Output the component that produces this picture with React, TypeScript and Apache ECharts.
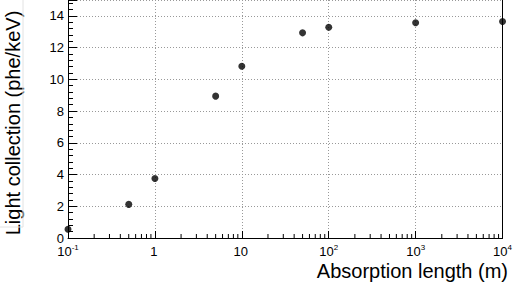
import React, { useEffect, useRef } from "react";
import * as echarts from "echarts";

const absorptionLength = [0.1, 0.5, 1, 5, 10, 50, 100, 1000, 10000];
const lightCollection = [0.55, 2.12, 3.75, 8.94, 10.82, 12.93, 13.28, 13.57, 13.64];
const decades = [0.1, 1, 10, 100, 1000];
const minorMultipliers = [2, 3, 4, 5, 6, 7, 8, 9];
const yTicks = [0, 2, 4, 6, 8, 10, 12, 14];

const FONT = "'Liberation Sans', Arial, Helvetica, sans-serif";

export default function App() {
  const ref = useRef<HTMLDivElement>(null);
  useEffect(() => {
    if (!ref.current) return;
    const chart = echarts.init(ref.current, undefined, { renderer: "svg" });
    const minorTicks: number[][] = [];
    decades.forEach((d) => minorMultipliers.forEach((m) => minorTicks.push([d * m, 0])));
    const yMin = yTicks[0];
    const yMax = 15;
    chart.setOption({
      animation: false,
      backgroundColor: "#fff",
      grid: { left: 68, right: 12, top: 0, bottom: 46, show: false },
      xAxis: {
        type: "log",
        logBase: 10,
        min: 0.1,
        max: 10000,
        axisLine: { show: true, onZero: false, lineStyle: { color: "#000", width: 1 } },
        axisTick: { show: true, inside: true, length: 7, lineStyle: { color: "#000" } },
        minorTick: { show: false },
        splitLine: { show: true, lineStyle: { color: "#999", type: [1, 2], width: 1 } },
        axisLabel: {
          margin: 7,
          color: "#000",
          fontFamily: FONT,
          fontSize: 13,
          lineHeight: 15,
          formatter: (v: number) => {
            const e = Math.round(Math.log10(v));
            if (e === 0) return "{b|1}{s| }";
            if (e === 1) return "{b|10}{s| }";
            return `{b|10}{s|${e}}`;
          },
          rich: {
            b: { fontSize: 13, lineHeight: 13, verticalAlign: "bottom", fontFamily: FONT, color: "#000" },
            s: {
              fontSize: 8,
              lineHeight: 8,
              padding: [0, 0, 7, 0],
              verticalAlign: "bottom",
              fontFamily: FONT,
              color: "#000",
            },
          },
        },
      },
      yAxis: [
        {
          type: "value",
          min: yMin,
          max: yMax,
          interval: 2,
          axisLine: { show: true, lineStyle: { color: "#000", width: 1 } },
          axisTick: { show: true, inside: true, length: 9, lineStyle: { color: "#000" } },
          minorTick: { show: true, splitNumber: 5, length: 5, lineStyle: { color: "#000" } },
          splitLine: { show: true, lineStyle: { color: "#999", type: [1, 2], width: 1 } },
          axisLabel: {
            margin: 4,
            color: "#000",
            fontFamily: FONT,
            fontSize: 13,
            lineHeight: 11,
            showMaxLabel: false,
          },
        },
        {
          type: "value",
          position: "right",
          min: yMin,
          max: yMax,
          interval: 2,
          axisLine: { show: true, lineStyle: { color: "#000", width: 1 } },
          axisTick: { show: false },
          axisLabel: { show: false },
          splitLine: { show: false },
        },
      ],
      graphic: [
        {
          type: "text",
          x: 13,
          y: 123,
          rotation: Math.PI / 2,
          style: {
            text: "Light collection (phe/keV)",
            font: `20px ${FONT}`,
            fill: "#000",
            align: "center",
            verticalAlign: "middle",
          },
        },
        {
          type: "text",
          right: 7,
          top: 261,
          style: {
            text: "Absorption length (m)",
            font: `20px ${FONT}`,
            fill: "#000",
          },
        },
        {
          type: "polyline",
          shape: { points: [[23, 0], [23, 227], [0, 227]] },
          style: { stroke: "#e2e2e2", lineWidth: 1, fill: null },
          silent: true,
        },
      ],
      series: [
        {
          type: "scatter",
          data: absorptionLength.map((x, i) => [x, lightCollection[i]]),
          symbol: "circle",
          symbolSize: 7,
          itemStyle: { color: "#000" },
          clip: false,
          z: 5,
        },
        {
          type: "custom",
          data: minorTicks,
          silent: true,
          renderItem: (_params: any, api: any) => {
            const p = api.coord([api.value(0), yMin]);
            return {
              type: "line",
              shape: { x1: p[0], y1: p[1], x2: p[0], y2: p[1] - 4 },
              style: { stroke: "#000", lineWidth: 1 },
            };
          },
          z: 4,
        },
      ],
    });
    return () => chart.dispose();
  }, []);
  return (
    <div
      ref={ref}
      style={{ position: "fixed", left: 0, top: 0, width: 515, height: 284 }}
    />
  );
}
